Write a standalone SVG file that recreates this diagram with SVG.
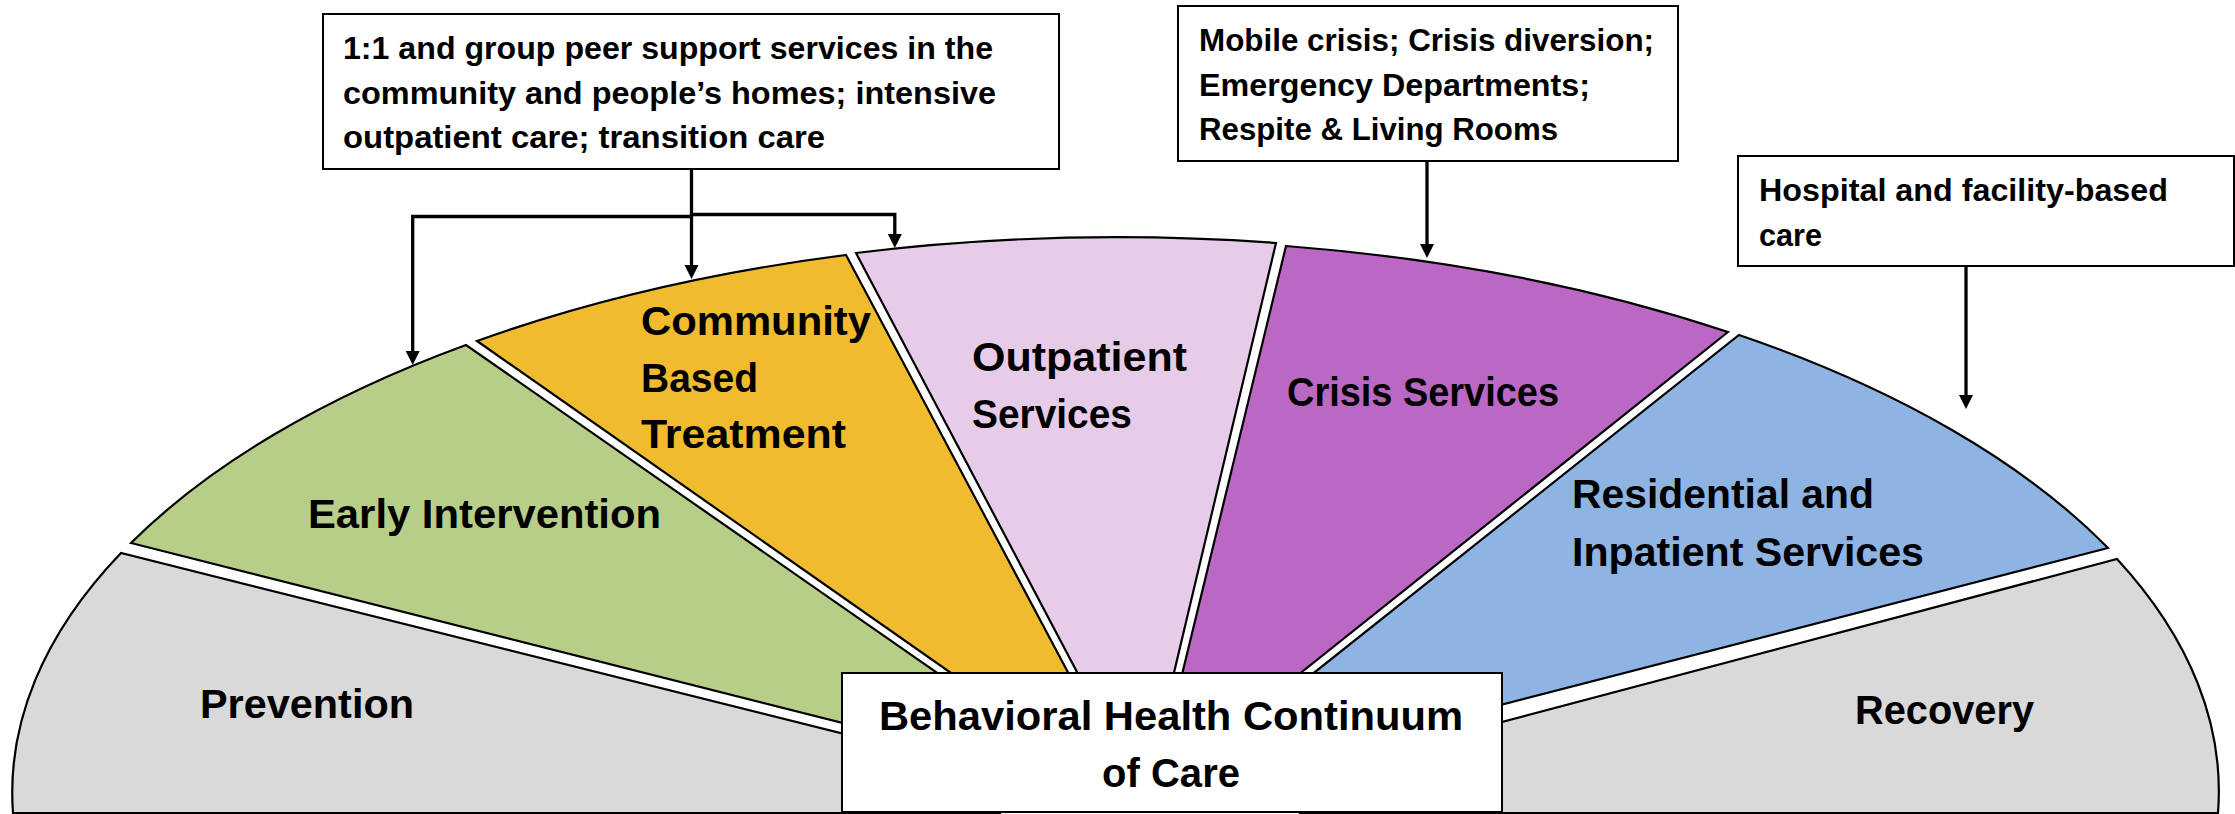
<svg xmlns="http://www.w3.org/2000/svg" width="2235" height="814" viewBox="0 0 2235 814">
<defs>
<style>
.sec{stroke:#000;stroke-width:2.2;stroke-linejoin:miter}
.box{fill:#fff;stroke:#000;stroke-width:2}
.lbl{font-family:"Liberation Sans",Arial,sans-serif;font-weight:bold;font-size:40px;fill:#000}
.bt{font-family:"Liberation Sans",Arial,sans-serif;font-weight:bold;font-size:32px;fill:#000}
.con{fill:none;stroke:#000;stroke-width:3.3}
</style>
<marker id="ah" markerUnits="userSpaceOnUse" markerWidth="16" markerHeight="16" refX="0" refY="7" orient="auto" viewBox="0 0 16 14">
<path d="M0,0 L14,7 L0,14 Z" fill="#000"/>
</marker>
</defs>
<rect width="2235" height="814" fill="#fff"/>

<g id="prevention">
<path class="sec" fill="#D9D9D9" d="M13,813 A1103,553 0 0 1 121,553 L1000,773 L1000,813 Z"/>
<text class="lbl" x="200" y="718" textLength="214" lengthAdjust="spacingAndGlyphs">Prevention</text>
</g>
<g id="early-intervention">
<path class="sec" fill="#B7CE88" d="M131,543 A1103,553 0 0 1 466,345 L1104,789 Z"/>
<text class="lbl" x="308" y="528" textLength="353" lengthAdjust="spacingAndGlyphs">Early Intervention</text>
</g>
<g id="community-based-treatment">
<path class="sec" fill="#F0BB2F" d="M477,341 A1103,553 0 0 1 846,255 L1138,804 Z"/>
<text class="lbl" x="641" y="335" textLength="230" lengthAdjust="spacingAndGlyphs">Community</text>
<text class="lbl" x="641" y="392" textLength="117" lengthAdjust="spacingAndGlyphs">Based</text>
<text class="lbl" x="641" y="448" textLength="205" lengthAdjust="spacingAndGlyphs">Treatment</text>
</g>
<g id="outpatient-services">
<path class="sec" fill="#E7CCEA" d="M856,253 A1103,553 0 0 1 1276,243 L1144,799 Z"/>
<text class="lbl" x="972" y="371" textLength="215" lengthAdjust="spacingAndGlyphs">Outpatient</text>
<text class="lbl" x="972" y="428" textLength="160" lengthAdjust="spacingAndGlyphs">Services</text>
</g>
<g id="crisis-services">
<path class="sec" fill="#BA68C4" d="M1286,246 A1103,553 0 0 1 1728,332 L1154,790 Z"/>
<text class="lbl" x="1287" y="406" textLength="272" lengthAdjust="spacingAndGlyphs">Crisis Services</text>
</g>
<g id="residential-inpatient">
<path class="sec" fill="#8EB4E3" d="M1739,335 A1103,553 0 0 1 2108,548 L1164,792 Z"/>
<text class="lbl" x="1572" y="508" textLength="302" lengthAdjust="spacingAndGlyphs">Residential and</text>
<text class="lbl" x="1572" y="566" textLength="352" lengthAdjust="spacingAndGlyphs">Inpatient Services</text>
</g>
<g id="recovery">
<path class="sec" fill="#D9D9D9" d="M2117,559 A1103,553 0 0 1 2218,813 L1300,813 L1300,775.5 Z"/>
<text class="lbl" x="1855" y="724" textLength="179" lengthAdjust="spacingAndGlyphs">Recovery</text>
</g>

<g id="connectors">
<path class="con" d="M691.5,169 L691.5,265" marker-end="url(#ah)"/>
<path class="con" d="M691.5,216.5 L412.7,216.5 L412.7,351" marker-end="url(#ah)"/>
<path class="con" d="M691.5,214.5 L894.8,214.5 L894.8,234" marker-end="url(#ah)"/>
<path class="con" d="M1427,161 L1427,244" marker-end="url(#ah)"/>
<path class="con" d="M1966,266 L1966,395" marker-end="url(#ah)"/>
</g>

<g id="continuum-title">
<rect class="box" x="842" y="673" width="660" height="139"/>
<text class="lbl" x="879" y="730" textLength="584" lengthAdjust="spacingAndGlyphs">Behavioral Health Continuum</text>
<text class="lbl" x="1102" y="787" textLength="138" lengthAdjust="spacingAndGlyphs">of Care</text>
</g>
<g id="note-community">
<rect class="box" x="323" y="14" width="736" height="155"/>
<text class="bt" x="343" y="59" textLength="650" lengthAdjust="spacingAndGlyphs">1:1 and group peer support services in the</text>
<text class="bt" x="343" y="104" textLength="653" lengthAdjust="spacingAndGlyphs">community and people’s homes; intensive</text>
<text class="bt" x="343" y="148" textLength="482" lengthAdjust="spacingAndGlyphs">outpatient care; transition care</text>
</g>
<g id="note-crisis">
<rect class="box" x="1178" y="6" width="500" height="155"/>
<text class="bt" x="1199" y="51" textLength="455" lengthAdjust="spacingAndGlyphs">Mobile crisis; Crisis diversion;</text>
<text class="bt" x="1199" y="96" textLength="391" lengthAdjust="spacingAndGlyphs">Emergency Departments;</text>
<text class="bt" x="1199" y="140" textLength="359" lengthAdjust="spacingAndGlyphs">Respite &amp; Living Rooms</text>
</g>
<g id="note-hospital">
<rect class="box" x="1738" y="156" width="496" height="110"/>
<text class="bt" x="1759" y="201" textLength="409" lengthAdjust="spacingAndGlyphs">Hospital and facility-based</text>
<text class="bt" x="1759" y="246" textLength="63" lengthAdjust="spacingAndGlyphs">care</text>
</g>
</svg>
